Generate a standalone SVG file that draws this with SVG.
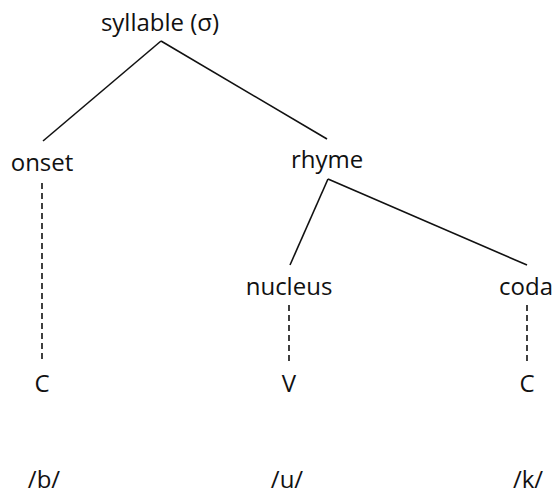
<svg xmlns="http://www.w3.org/2000/svg" width="556" height="495" viewBox="0 0 556 495">
  <style>
    text { font-family: "Open Sans", "Noto Sans", sans-serif; font-size: 24px; fill: #111; text-anchor: middle; }
    .branch { stroke: #111; stroke-width: 1.6; fill: none; }
    .assoc { stroke: #111; stroke-width: 1.6; fill: none; stroke-dasharray: 6 4; }
  </style>
  <rect width="556" height="495" fill="#fff"/>

  <!-- tree connectors -->
  <g id="connectors">
    <line class="branch" x1="161" y1="41" x2="43" y2="141"/>
    <line class="branch" x1="161" y1="41" x2="327" y2="139"/>
    <line class="branch" x1="328" y1="179" x2="290" y2="265"/>
    <line class="branch" x1="328" y1="179" x2="527" y2="265"/>
    <line class="assoc" x1="42" y1="183" x2="42" y2="363"/>
    <line class="assoc" x1="289" y1="305" x2="289" y2="363"/>
    <line class="assoc" x1="527" y1="305" x2="527" y2="363"/>
  </g>

  <!-- constituent nodes -->
  <g id="syllable"><text x="160" y="31">syllable (σ)</text></g>
  <g id="onset"><text x="42" y="171">onset</text></g>
  <g id="rhyme"><text x="327" y="168">rhyme</text></g>
  <g id="nucleus"><text x="289" y="295">nucleus</text></g>
  <g id="coda"><text x="526" y="295">coda</text></g>

  <!-- skeletal slots -->
  <g id="slot-c1"><text x="42" y="392">C</text></g>
  <g id="slot-v"><text x="289" y="392">V</text></g>
  <g id="slot-c2"><text x="527" y="392">C</text></g>

  <!-- segments -->
  <g id="seg-b"><text x="44" y="488">/b/</text></g>
  <g id="seg-u"><text x="287" y="488">/u/</text></g>
  <g id="seg-k"><text x="528" y="488">/k/</text></g>
</svg>
